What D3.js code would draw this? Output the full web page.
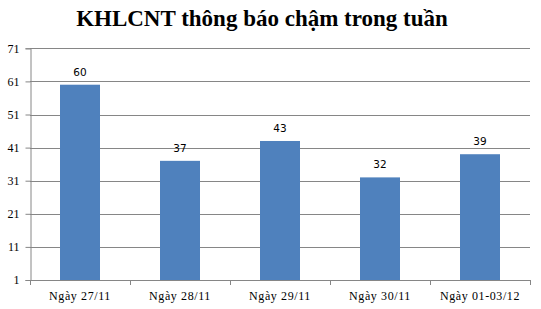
<!DOCTYPE html>
<html>
<head>
<meta charset="utf-8">
<script src="https://cdn.jsdelivr.net/npm/d3@7"></script>
<style>
  body { margin: 0; background: #fff; }
  svg { display: block; }
</style>
</head>
<body>
<div id="chart"></div>
<script>
const categories = ["Ngày 27/11", "Ngày 28/11", "Ngày 29/11", "Ngày 30/11", "Ngày 01-03/12"];
const values = [60, 37, 43, 32, 39];
const yTicks = [1, 11, 21, 31, 41, 51, 61, 71];
const title = "KHLCNT thông báo chậm trong tuần";

const width = 541;
const height = 309;
const plotLeft = 30, plotRight = 530, plotTop = 48.3, plotBottom = 280;

const svg = d3
  .select("#chart")
  .append("svg")
  .attr("width", width)
  .attr("height", height);

const x = d3.scaleBand().domain(categories).range([plotLeft, plotRight]).paddingInner(0.6).paddingOuter(0.3);
const y = d3.scaleLinear().domain([1, 71]).range([plotBottom, plotTop]);

// title
svg
  .append("text")
  .attr("x", 262)
  .attr("y", 26)
  .attr("text-anchor", "middle")
  .style("font-family", "'Liberation Serif', 'Times New Roman', serif")
  .style("font-weight", "bold")
  .style("font-size", "23px")
  .text(title);

// gridlines
svg
  .append("g")
  .selectAll("line")
  .data(yTicks.slice(1))
  .enter()
  .append("line")
  .attr("x1", plotLeft)
  .attr("x2", plotRight)
  .attr("y1", (d) => Math.round(y(d)) + 0.5)
  .attr("y2", (d) => Math.round(y(d)) + 0.5)
  .attr("stroke", "#868686");

// bars
svg
  .append("g")
  .selectAll("rect")
  .data(values)
  .enter()
  .append("rect")
  .attr("x", (d, i) => x(categories[i]))
  .attr("width", x.bandwidth())
  .attr("y", (d) => y(d))
  .attr("height", (d) => plotBottom - y(d))
  .attr("fill", "#4f81bd");

// value labels
svg
  .append("g")
  .selectAll("text")
  .data(values)
  .enter()
  .append("text")
  .attr("x", (d, i) => x(categories[i]) + x.bandwidth() / 2)
  .attr("y", (d) => y(d) - 9)
  .attr("text-anchor", "middle")
  .style("font-family", "'DejaVu Sans', Verdana, sans-serif")
  .style("font-size", "10.5px")
  .style("fill", "#000")
  .text((d) => d);

// y axis
const yAxis = svg
  .append("g")
  .attr("transform", `translate(${plotLeft + 0.5},0)`)
  .call(d3.axisLeft(y).tickValues(yTicks).tickSize(5).tickPadding(6));

// x axis
const xAxis = svg
  .append("g")
  .attr("transform", `translate(0,${plotBottom + 0.5})`)
  .call(d3.axisBottom(x).tickSize(0).tickPadding(11));

// category boundary ticks
svg
  .append("g")
  .selectAll("line")
  .data(d3.range(categories.length + 1))
  .enter()
  .append("line")
  .attr("x1", (i) => Math.round(plotLeft + (i * (plotRight - plotLeft)) / categories.length) + 0.5)
  .attr("x2", (i) => Math.round(plotLeft + (i * (plotRight - plotLeft)) / categories.length) + 0.5)
  .attr("y1", plotBottom)
  .attr("y2", plotBottom + 5)
  .attr("stroke", "#868686");

[yAxis, xAxis].forEach((g) => {
  g.select(".domain").attr("stroke", "#868686");
  g.selectAll(".tick line").attr("stroke", "#868686");
  g.selectAll("text")
    .style("font-family", "'Liberation Serif', 'Times New Roman', serif")
    .style("font-size", "12px")
    .style("fill", "#000");
});
xAxis.selectAll("text").style("letter-spacing", "0.6px");
xAxis.select(".domain").attr("d", `M${plotLeft},0H${plotRight}`);
</script>
</body>
</html>
